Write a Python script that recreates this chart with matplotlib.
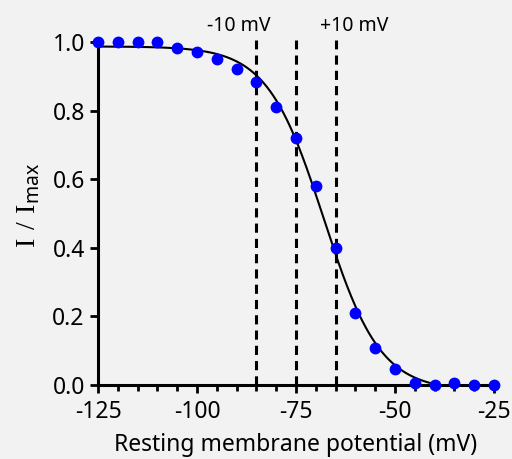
import numpy as np
import matplotlib
matplotlib.use("Agg")
import matplotlib.pyplot as plt

# data
voltage = [-125, -120, -115, -110, -105, -100, -95, -90, -85, -80, -75,
           -70, -65, -60, -55, -50, -45, -40, -35, -30, -25]
i_norm = [1.0, 1.0, 1.0, 1.0, 0.982, 0.972, 0.95, 0.921, 0.882, 0.811, 0.721,
          0.58, 0.399, 0.209, 0.107, 0.047, 0.007, 0.0, 0.005, 0.0, 0.0]
marker_lines = [-85, -75, -65]
x_ticks = [-125, -100, -75, -50, -25]
y_ticks = [0.0, 0.2, 0.4, 0.6, 0.8, 1.0]

v = np.array(voltage, float)
y = np.array(i_norm, float)

# Boltzmann fit: bottom + (top-bottom)/(1+exp((V-V50)/k)), grid over V50,k
best = None
for v50 in np.arange(-75, -63, 0.05):
    for k in np.arange(3, 10, 0.02):
        s = 1.0 / (1.0 + np.exp((v - v50) / k))
        A = np.column_stack([s, 1 - s])
        coef, res, _, _ = np.linalg.lstsq(A, y, rcond=None)
        err = np.sum((A @ coef - y) ** 2)
        if best is None or err < best[0]:
            best = (err, v50, k, coef)
_, v50, k, (top, bottom) = best
vv = np.linspace(-125, -40, 400)
fit = bottom + (top - bottom) / (1 + np.exp((vv - v50) / k))

plt.rcParams['font.family'] = ['Noto Sans', 'DejaVu Sans']
plt.rcParams['axes.unicode_minus'] = False
plt.rcParams['mathtext.fontset'] = 'custom'
plt.rcParams['mathtext.rm'] = 'Liberation Serif'
plt.rcParams['mathtext.sf'] = 'Noto Sans'

bg = '#f2f2f2'
fig = plt.figure(figsize=(5.12, 4.59), dpi=100, facecolor=bg)
ax = fig.add_axes([98 / 512, 1 - 385 / 459, 396 / 512, 343 / 459], facecolor=bg)

for xv in marker_lines:
    ax.plot([xv, xv], [0, 1.005], color='black', lw=2.2, ls=(0, (3, 2)),
            clip_on=False, zorder=2)
ax.plot(vv, fit, color='black', lw=1.5, zorder=3)
ax.plot(v, y, 'o', color='#0000ff', ms=8.5, mec='none', clip_on=False, zorder=4)

ax.text(-89.4, 1.047, '-10 mV', ha='center', va='center', fontsize=14)
ax.text(-60.4, 1.047, '+10 mV', ha='center', va='center', fontsize=14)

ax.set_xlim(-125, -25)
ax.set_ylim(0, 1.0)
ax.set_xticks(x_ticks)
ax.set_xticks(np.arange(-125, -24, 5), minor=True)
ax.set_yticks(y_ticks)
ax.set_yticklabels([f'{t:.1f}' for t in y_ticks])

for s in ['top', 'right']:
    ax.spines[s].set_visible(False)
for s in ['left', 'bottom']:
    ax.spines[s].set_linewidth(2.2)
ax.tick_params(which='major', length=6, width=2, labelsize=16.5, direction='out')
ax.tick_params(axis='x', which='major', pad=5)
ax.tick_params(which='minor', length=4, width=2, direction='out')
ax.tick_params(axis='y', which='minor', length=0)

ax.set_xlabel('Resting membrane potential (mV)', fontsize=16.5, labelpad=6)
ax.set_ylabel(r'$\mathrm{I\ /\ I}_{\mathsf{max}}$', fontsize=20)
ax.yaxis.set_label_coords(-0.14, 0.523)

fig.savefig('out.png', dpi=100, facecolor=bg)
